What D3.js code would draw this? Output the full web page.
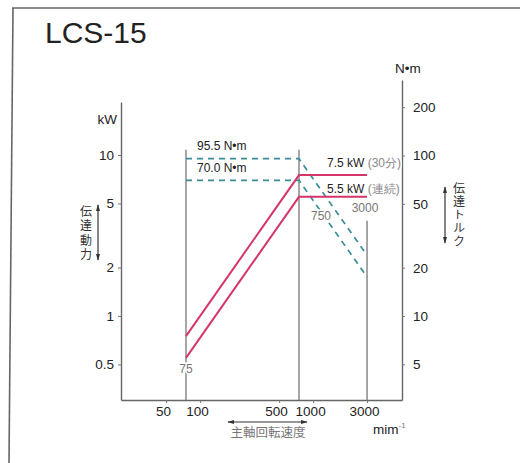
<!DOCTYPE html>
<html>
<head>
<meta charset="utf-8">
<script src="https://cdn.jsdelivr.net/npm/d3@7"></script>
<style>
  body { margin: 0; background: #fff; }
  svg { display: block; font-family: "Liberation Sans", Arial, sans-serif; }
  .jp { font-family: "Noto Sans CJK JP", sans-serif; }
  .vert { writing-mode: vertical-rl; text-orientation: upright; }
</style>
</head>
<body>
<script>
// spindle speed breakpoints (min-1)
const speeds = [75, 750, 3000];
// transmitted power, kW
const power30 = [0.75, 7.5, 7.5];    // 30 min rating
const powerCont = [0.55, 5.5, 5.5];  // continuous
// transmitted torque, N·m
const torque30 = [95.5, 95.5, 23.9];
const torqueCont = [70.0, 70.0, 17.5];
// tick labels
const xTicks = [50, 100, 500, 1000, 3000];
const kwTicks = [0.5, 1, 2, 5, 10];
const nmTicks = [5, 10, 20, 50, 100, 200];

drawChart();

function logScale(d0, d1, r0, r1, lo, hi) {
	//fit on two known ticks, then stretch to the axis ends
	let s = d3.scaleLog().domain([d0, d1]).range([r0, r1]);
	return s.copy().domain([s.invert(lo), s.invert(hi)]).range([lo, hi]);
}

function drawChart() {
	let svg = d3.select('body').append('svg')
		.attr('width', 520)
		.attr('height', 463);

	let x = logScale(75, 750, 186, 299, 121, 402);
	let yKW = logScale(1, 10, 316, 155, 400, 102);
	let yNm = logScale(10, 100, 316, 155.5, 400, 80);

	//frame
	svg.append('line')
		.attr('x1', 12).attr('x2', 520).attr('y1', 8).attr('y2', 8)
		.attr('stroke', '#666').attr('stroke-width', 1.6);
	svg.append('line')
		.attr('x1', 13).attr('x2', 9).attr('y1', 8).attr('y2', 463)
		.attr('stroke', '#666').attr('stroke-width', 1.6);

	svg.append('text')
		.attr('x', 45).attr('y', 43)
		.attr('font-size', 30)
		.attr('fill', '#222')
		.text('LCS-15');

	//axes
	let gL = svg.append('g').attr('transform', 'translate(121,0)')
		.call(d3.axisLeft(yKW).tickValues(kwTicks).tickSize(3).tickSizeOuter(0)
			.tickPadding(4).tickFormat(d => d));
	let gR = svg.append('g').attr('transform', 'translate(402,0)')
		.call(d3.axisRight(yNm).tickValues(nmTicks).tickSize(3).tickSizeOuter(0)
			.tickPadding(8).tickFormat(d => d));
	let gB = svg.append('g').attr('transform', 'translate(0,400)')
		.call(d3.axisBottom(x).tickValues(xTicks).tickSize(3).tickSizeOuter(0)
			.tickPadding(3).tickFormat(d => d));
	gB.selectAll('.tick text').attr('dx', -3);
	[gL, gR, gB].forEach(function(g) {
		g.select('.domain').attr('stroke', '#666').attr('stroke-width', 1.4);
		g.selectAll('.tick line').attr('stroke', '#777');
		g.selectAll('.tick text')
			.attr('font-family', '"Liberation Sans", Arial, sans-serif')
			.attr('font-size', 13.5).attr('fill', '#222');
	});

	//speed reference lines
	let vTop = [yNm(95.5) - 9, yNm(95.5) - 9, yKW(5.5) + 24];
	speeds.forEach(function(n, i) {
		svg.append('line')
			.attr('x1', x(n)).attr('x2', x(n))
			.attr('y1', vTop[i]).attr('y2', 400)
			.attr('stroke', '#777').attr('stroke-width', 1.3);
	});

	let pts = (ys) => speeds.map((n, i) => ({n: n, v: ys[i]}));
	let lineKW = d3.line().x(d => x(d.n)).y(d => yKW(d.v));
	let lineNm = d3.line().x(d => x(d.n)).y(d => yNm(d.v));

	//torque (dashed)
	[torque30, torqueCont].forEach(function(t) {
		svg.append('path')
			.attr('d', lineNm(pts(t)))
			.attr('fill', 'none')
			.attr('stroke', '#3a8c96')
			.attr('stroke-width', 1.7)
			.attr('stroke-dasharray', '6,5');
	});

	//power (solid)
	[power30, powerCont].forEach(function(p) {
		svg.append('path')
			.attr('d', lineKW(pts(p)))
			.attr('fill', 'none')
			.attr('stroke', '#d4356b')
			.attr('stroke-width', 2);
	});

	//labels on the chart
	let label = function(tx, ty, parts, anchor) {
		let t = svg.append('text')
			.attr('x', tx).attr('y', ty)
			.attr('font-size', 12)
			.attr('text-anchor', anchor || 'start')
			.attr('stroke', '#fff').attr('stroke-width', 3)
			.attr('paint-order', 'stroke');
		parts.forEach(function(p) {
			t.append('tspan').attr('fill', p[1]).text(p[0]);
		});
		return t;
	};
	label(x(75) + 11, yNm(95.5) - 9, [['95.5 N•m', '#222']]);
	label(x(75) + 11, yNm(70) - 8, [['70.0 N•m', '#222']]);
	label(x(750) + 28, yKW(7.5) - 8, [['7.5 kW ', '#222'], ['(30分)', '#888']]);
	label(x(750) + 28, yKW(5.5) - 4, [['5.5 kW ', '#222'], ['(連続)', '#888']]);
	label(x(750) + 22, yKW(5.5) + 23, [['750', '#777']], 'middle');
	label(x(3000) - 2, yKW(5.5) + 15, [['3000', '#777']], 'middle');
	label(x(75), yKW(0.55) + 15, [['75', '#777']], 'middle');

	//units
	svg.append('text').attr('x', 117).attr('y', 124)
		.attr('text-anchor', 'end').attr('font-size', 13.5).attr('fill', '#222')
		.text('kW');
	svg.append('text').attr('x', 395).attr('y', 73)
		.attr('font-size', 13.5).attr('fill', '#222')
		.text('N•m');
	let mm = svg.append('text').attr('x', 373).attr('y', 434)
		.attr('font-size', 13.5).attr('fill', '#222')
		.text('mim');
	mm.append('tspan').attr('font-size', 8).attr('dy', -6).attr('fill', '#777').text('-1');

	//arrow marker
	let defs = svg.append('defs');
	defs.append('marker')
		.attr('id', 'ah')
		.attr('viewBox', '0 0 10 10')
		.attr('refX', 9).attr('refY', 5)
		.attr('markerWidth', 7).attr('markerHeight', 7)
		.attr('markerUnits', 'userSpaceOnUse')
		.attr('orient', 'auto-start-reverse')
		.append('path').attr('d', 'M0,2 L10,5 L0,8 Z').attr('fill', '#333');

	let arrow = function(x1, y1, x2, y2) {
		svg.append('line')
			.attr('x1', x1).attr('y1', y1).attr('x2', x2).attr('y2', y2)
			.attr('stroke', '#333').attr('stroke-width', 1.2)
			.attr('marker-start', 'url(#ah)').attr('marker-end', 'url(#ah)');
	};

	//vertical japanese captions
	let vText = function(cx, top, spacing, str) {
		svg.append('text').attr('class', 'jp vert')
			.attr('x', cx).attr('y', top)
			.attr('font-size', 12).attr('fill', '#333')
			.attr('letter-spacing', spacing)
			.text(str);
	};
	vText(86, 205, 2.5, '伝達動力');
	arrow(98, 205, 98, 260);
	vText(459, 182, 1.3, '伝達トルク');
	arrow(445, 187, 445, 243);

	arrow(228, 422, 307, 422);
	svg.append('text').attr('class', 'jp')
		.attr('x', 268).attr('y', 437)
		.attr('text-anchor', 'middle')
		.attr('font-size', 12.5).attr('fill', '#777')
		.text('主軸回転速度');
}
</script>
</body>
</html>
